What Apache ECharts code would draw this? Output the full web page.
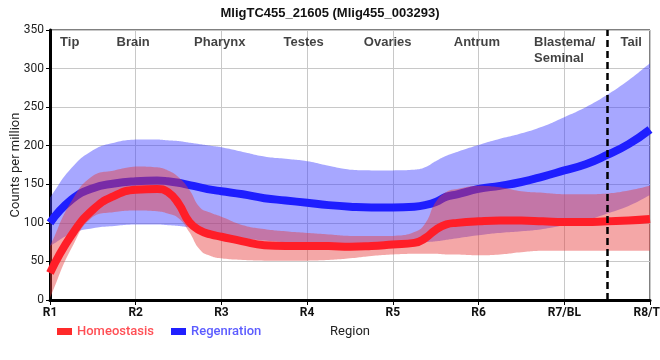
<!DOCTYPE html>
<html><head><meta charset="utf-8">
<script src="https://cdn.jsdelivr.net/npm/echarts@6/dist/echarts.min.js"></script>
<style>html,body{margin:0;padding:0;background:#fff}#c{width:660px;height:360px}</style>
</head><body><div id="c"></div>
<script>
const categories = ['R1','R2','R3','R4','R5','R6','R7/BL','R8/TL'];
const xs = [0,0.25,0.5,0.75,1,1.25,1.375,1.5,1.625,1.75,1.875,2,2.25,2.5,2.75,3,3.25,3.5,3.75,4,4.25,4.375,4.5,4.625,4.75,5,5.25,5.5,5.75,6,6.25,6.5,6.75,7];
const regMean  = [100,130,145,151,154,155,154,152,149,146,143,141,137,132,129,126,123,121,120,120,121,123,127,134,137,144,148,153,160,168,176,188,202,221];
const regUpper = [133,171,194,204,208,208,207,206,204,202,200,198,192,186,183,180,174,169,168,168,169,172,180,187,192,201,209,216,225,237,250,266,285,307];
const regLower = [70,86,93,96,98,98,97,96,94,91,87,84,80,77,75,74,74,74,74,74,74,75,76,78,80,84,87,89,92,97,103,112,122,136];
const homMean  = [35,84,117,135,143,144,140,125,101,90,85,82,76,71,70,70,70,69,70,72,74,80,91,98,100,102,103,103,102,101,101,102,103,105];
const homUpper = [70,128,161,168,173,172,168,159,143,120,113,108,97,92,89,87,85,83,83,83,88,99,127,140,144,148,146,141,139,137,137,138,142,148];
const homLower = [3,67,108,114,116,115,112,106,88,65,57,54,52,51,51,51,52,54,57,59,60,60,60,59,59,58,59,62,64,64,64,64,64,64];
const regionNames = ['Tip','Brain','Pharynx','Testes','Ovaries','Antrum','Blastema/\nSeminal','Tail'];
const regionX = [0.23,0.97,1.98,2.96,3.94,4.98,5.647,6.78];
const tailDivider = 6.5;

const pts = arr => xs.map((x,i)=>[x,arr[i]]);

// smooth a pixel polyline (similar to ECharts' clamped bezier smoothing)
function smoothPath(p, smooth){
  const n = p.length, prevCp = [], nextCp = [];
  for (let i=0;i<n;i++){
    const cur=p[i], prev=p[i-1]||cur, next=p[i+1]||cur;
    const vx=next[0]-prev[0], vy=next[1]-prev[1];
    const d0=Math.hypot(cur[0]-prev[0],cur[1]-prev[1]);
    const d1=Math.hypot(next[0]-cur[0],next[1]-cur[1]);
    const r = (d0+d1)>0 ? d1/(d0+d1) : 0.5;
    let nx=cur[0]+vx*smooth*r, ny=cur[1]+vy*smooth*r;
    let px=cur[0]-vx*smooth*(1-r), py=cur[1]-vy*smooth*(1-r);
    const clamp=(v,a,b)=>Math.min(Math.max(v,Math.min(a,b)),Math.max(a,b));
    nx=clamp(nx,cur[0],next[0]); ny=clamp(ny,cur[1],next[1]);
    px=clamp(px,prev[0],cur[0]); py=clamp(py,prev[1],cur[1]);
    nextCp.push([nx,ny]); prevCp.push([px,py]);
  }
  const out=[p[0]];
  for (let i=0;i<n-1;i++){
    const a=p[i], c1=nextCp[i], c2=prevCp[i+1], b=p[i+1];
    for (let k=1;k<=12;k++){
      const t=k/12, u=1-t;
      out.push([u*u*u*a[0]+3*u*u*t*c1[0]+3*u*t*t*c2[0]+t*t*t*b[0],
                u*u*u*a[1]+3*u*u*t*c1[1]+3*u*t*t*c2[1]+t*t*t*b[1]]);
    }
  }
  return out;
}
function band(name, upper, lower, color, z){
  return {name, type:'custom', z, silent:true, clip:true, data:[[0,0]],
    renderItem:(params, api)=>{
      const up = smoothPath(xs.map((x,i)=>api.coord([x,upper[i]])), 0.5);
      const lo = smoothPath(xs.map((x,i)=>api.coord([x,lower[i]])), 0.5).reverse();
      return {type:'polygon', shape:{points:up.concat(lo)}, style:{fill:color}};
    }};
}

const chart = echarts.init(document.getElementById('c'), null, {renderer:'canvas'});
chart.setOption({
  animation:false,
  title:{text:'MligTC455_21605 (Mlig455_003293)',left:'center',top:2,
    textStyle:{fontFamily:'Liberation Sans',fontSize:13,fontWeight:'bold',color:'#111'}},
  grid:{left:50,right:10,top:30,bottom:60,containLabel:false,outerBoundsMode:'none',
    show:true,borderColor:'#000',borderWidth:1},
  legend:{left:52,top:320,itemWidth:15,itemHeight:7,itemGap:17,icon:'rect',
    data:[{name:'Homeostasis',textStyle:{color:'#ff4f55'}},{name:'Regenration',textStyle:{color:'#5c5cff'}}],
    textStyle:{fontFamily:'Roboto',fontSize:13,fontWeight:500}},
  xAxis:{type:'value',min:0,max:7,interval:1,name:'Region',nameLocation:'middle',nameGap:25,nameMoveOverlap:false,
    nameTextStyle:{fontFamily:'Roboto',fontSize:13,color:'#222'},
    axisLine:{show:true,lineStyle:{color:'#000',width:3}},
    axisTick:{show:true,length:5,lineStyle:{color:'#000',width:1}},
    axisLabel:{formatter:v=>categories[v],fontFamily:'Roboto',fontSize:12,fontWeight:'bold',color:'#111',margin:7},
    splitLine:{show:true,lineStyle:{color:'#c8c8c8',width:1}}},
  yAxis:{type:'value',min:0,max:350,interval:50,name:'Counts per million',nameLocation:'middle',nameGap:28,nameMoveOverlap:false,
    nameTextStyle:{fontFamily:'Roboto',fontSize:13,color:'#222'},
    axisLine:{show:true,lineStyle:{color:'#000',width:3}},
    axisTick:{show:true,length:4,lineStyle:{color:'#000',width:1}},
    axisLabel:{fontFamily:'Roboto',fontSize:12,color:'#222',margin:6},
    splitLine:{show:true,lineStyle:{color:'#c8c8c8',width:1}}},
  series:[
    band('regBand', regUpper, regLower, 'rgba(60,60,255,0.45)', 1),
    {name:'Regenration',type:'line',data:pts(regMean),smooth:0.5,symbol:'none',itemStyle:{color:'#2020ff'},
      lineStyle:{color:'#1e1eff',width:8},z:2},
    band('homBand', homUpper, homLower, 'rgba(230,60,60,0.45)', 3),
    {name:'Homeostasis',type:'line',data:pts(homMean),smooth:0.5,symbol:'none',itemStyle:{color:'#ff2a2a'},
      lineStyle:{color:'#ff1e28',width:8},z:4,
      markLine:{silent:true,symbol:'none',label:{show:false},
        lineStyle:{color:'#000',width:2.5,type:[7,4]},data:[{xAxis:tailDivider}]}},
    {name:'regions',type:'scatter',symbolSize:0,z:10,silent:true,
      data:regionNames.map((n,i)=>({name:n,value:[regionX[i],350],
        label: n.startsWith('Blastema') ? {align:'left'} : {}})),
      label:{show:true,position:'bottom',distance:4,formatter:'{b}',fontFamily:'Liberation Sans',
        fontSize:13,fontWeight:'bold',color:'#111',lineHeight:16}}
  ]
});
</script></body></html>
